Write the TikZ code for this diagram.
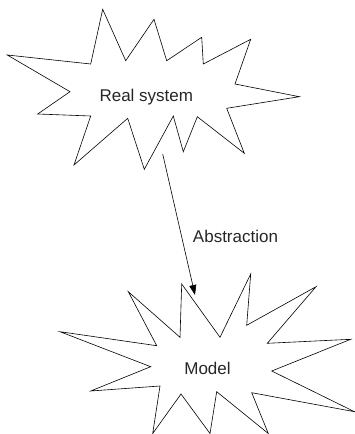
\documentclass[tikz,border=0pt]{standalone}
\usepackage{fontspec}
\setmainfont{Liberation Sans}
\usetikzlibrary{arrows.meta}
\begin{document}
\begin{tikzpicture}[x=1pt,y=-1pt,
  starline/.style={draw=black,line width=0.6pt,line join=miter},
  lbl/.style={font=\fontsize{17}{20}\selectfont,text=black!85,inner sep=0pt},
  conn/.style={draw=black,line width=0.6pt,-{Triangle[length=10pt,width=7pt]}}]
\useasboundingbox (0,0) rectangle (355,434);
% Real system star
\path[starline] (7.3,55) -- (90.7,64) -- (102.7,9.3) -- (125.7,60.7) -- (154,19.3)
  -- (166.7,60.7) -- (201.7,37.3) -- (203.3,64) -- (250.7,39.3) -- (235,84)
  -- (299.3,96.7) -- (226.7,108.3) -- (244.3,153.3) -- (197.3,116.7)
  -- (183.3,151.7) -- (173.3,116) -- (144.3,169.3) -- (127.7,118.3)
  -- (74,165) -- (90.7,116) -- (37.7,114) -- (70,91.7) -- cycle;
% Model star
\path[starline] (60,331.7) -- (156.7,345.7) -- (128.3,291.7) -- (180,337.3)
  -- (181.7,284) -- (220,337.3) -- (250.7,274) -- (246.7,325.3) -- (316,286.7)
  -- (267.3,343.3) -- (350.7,339.3) -- (271.7,371) -- (354.5,411.7)
  -- (251.7,392.7) -- (268.3,433.5) -- (216.7,391.7) -- (210,433.5)
  -- (181,394) -- (152.7,433.5) -- (160,386) -- (90.7,391) -- (150.7,366.7)
  -- cycle;
\node[lbl] (real) at (146.3,97.5) {Real system};
\node[lbl] (model) at (207.5,368.5) {Model};
\coordinate (from) at (162.7,154);
\coordinate (to) at (195,295);
\draw[conn] (from) -- (to);
\node[lbl] (abs) at (235.5,236) {Abstraction};
\end{tikzpicture}
\end{document}
